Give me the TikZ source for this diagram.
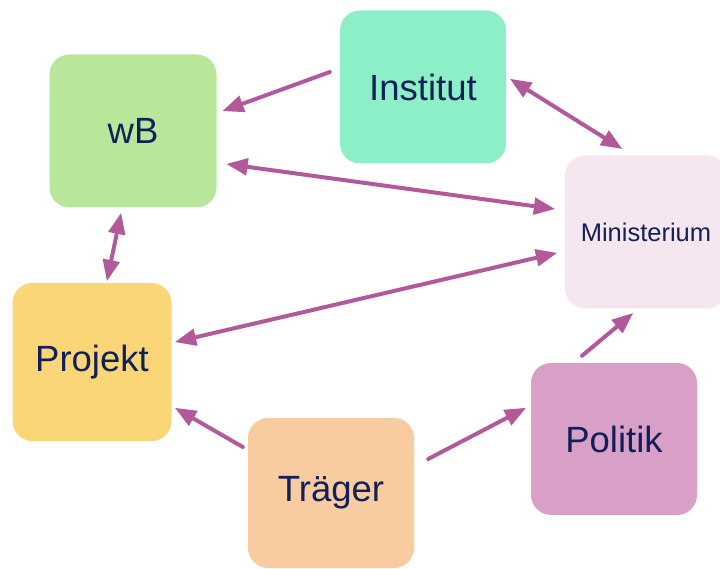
\documentclass[tikz,border=0pt]{standalone}
\usepackage{fontspec}
\setmainfont{Liberation Sans}
\usetikzlibrary{arrows}
\definecolor{arrcol}{HTML}{B2599C}
\definecolor{txtcol}{HTML}{12205A}
\definecolor{instcol}{HTML}{8CEFC7}
\definecolor{wbcol}{HTML}{B8E79C}
\definecolor{projcol}{HTML}{FBD677}
\definecolor{minicol}{HTML}{F5E6F0}
\definecolor{policol}{HTML}{D8A0C6}
\definecolor{tragcol}{HTML}{F8CBA0}
\begin{document}
\begin{tikzpicture}[line cap=round,line join=round,>=triangle 45,x=1.0pt,y=1.0pt,
box/.style={rounded corners=20pt,minimum width=166pt,minimum height=153pt,inner sep=0pt,text=txtcol,font=\fontsize{36.5}{40}\selectfont},
conn/.style={line width=4pt,color=arrcol}]
\useasboundingbox (0,0) rectangle (720,568);
\node[box,fill=instcol] (inst) at (423,481) {Institut};
\node[box,fill=wbcol,minimum width=167pt] (wb) at (133,437) {wB};
\node[box,fill=projcol,minimum width=159pt,minimum height=158pt] (proj) at (92,206) {Projekt};
\node[box,fill=minicol,minimum width=162pt,font=\fontsize{25.5}{30}\selectfont] (mini) at (646,336) {Ministerium};
\node[box,fill=policol,minimum height=152pt] (poli) at (614,129) {Politik};
\node[box,fill=tragcol,minimum height=150pt] (trag) at (331,75) {Träger};
\draw[conn,->] ([xshift=-10pt,yshift=15pt]inst.west) -- ([xshift=6pt,yshift=20pt]wb.east);
\draw[conn,<->] ([xshift=4pt,yshift=8pt]inst.east) -- ([xshift=-24pt,yshift=6.5pt]mini.north);
\draw[conn,<->] ([xshift=10pt,yshift=-33pt]wb.east) -- ([xshift=-10pt,yshift=23pt]mini.west);
\draw[conn,<->] ([xshift=-12pt,yshift=-5.5pt]wb.south) -- ([xshift=15pt,yshift=2pt]proj.north);
\draw[conn,<->] ([xshift=-8pt,yshift=-21pt]mini.west) -- ([xshift=3.5pt,yshift=20pt]proj.east);
\draw[conn,->] ([xshift=-32pt,yshift=7pt]poli.north) -- ([xshift=-13pt,yshift=-4.5pt]mini.south);
\draw[conn,->] ([xshift=14pt,yshift=34pt]trag.east) -- ([xshift=-5pt,yshift=31pt]poli.west);
\draw[conn,->] ([xshift=-5pt,yshift=46pt]trag.west) -- ([xshift=3.5pt,yshift=-46pt]proj.east);
\end{tikzpicture}
\end{document}
